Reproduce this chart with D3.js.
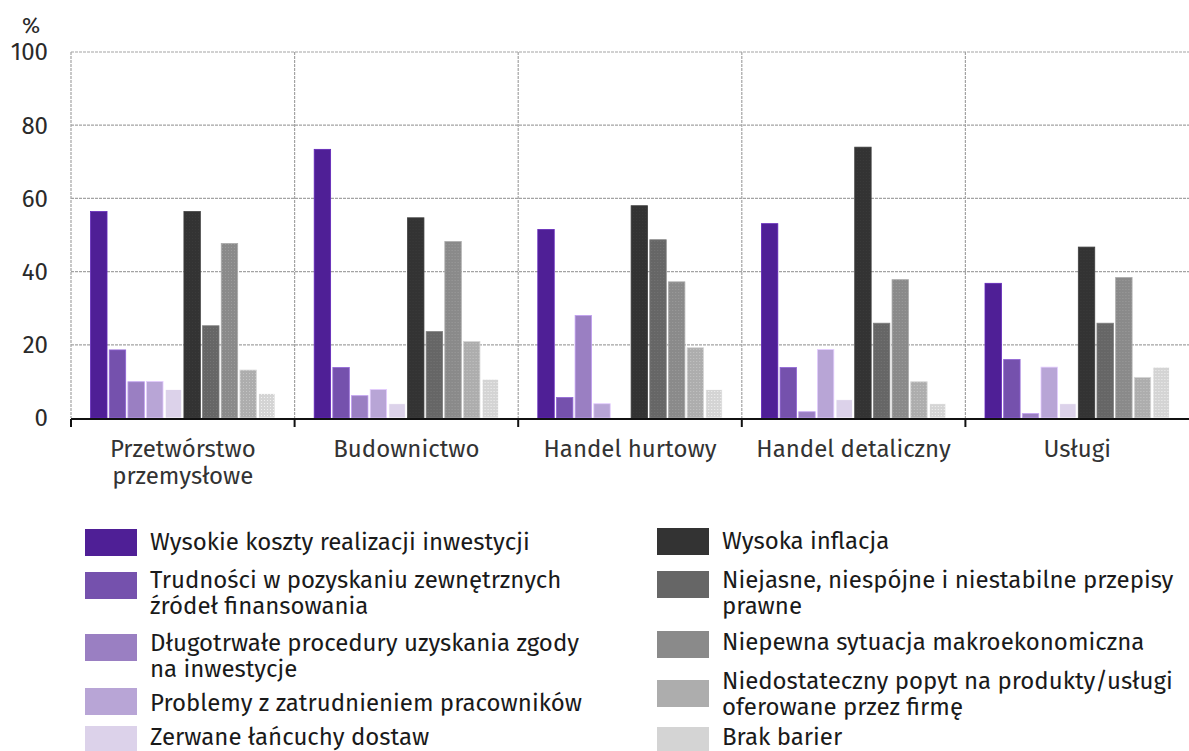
<!DOCTYPE html>
<html>
<head>
<meta charset="utf-8">
<script src="https://cdn.jsdelivr.net/npm/d3@7"></script>
<style>
  body { margin: 0; background: #fff; }
  text { font-family: "Fira Sans", "Open Sans", sans-serif; fill: #1a1a1a; }
</style>
</head>
<body>
<svg id="chart"></svg>
<script>
const categories = ["Przetwórstwo\nprzemysłowe", "Budownictwo", "Handel hurtowy", "Handel detaliczny", "Usługi"];
const seriesNames = [
  "Wysokie koszty realizacji inwestycji",
  "Trudności w pozyskaniu zewnętrznych\nźródeł finansowania",
  "Długotrwałe procedury uzyskania zgody\nna inwestycje",
  "Problemy z zatrudnieniem pracowników",
  "Zerwane łańcuchy dostaw",
  "Wysoka inflacja",
  "Niejasne, niespójne i niestabilne przepisy\nprawne",
  "Niepewna sytuacja makroekonomiczna",
  "Niedostateczny popyt na produkty/usługi\noferowane przez firmę",
  "Brak barier"
];
// one array per series, values per category (%)
const kosztyInwestycji = [56.4, 73.4, 51.5, 53.1, 36.8];
const finansowanie     = [18.6, 13.8, 5.6, 13.8, 16.0];
const procedury        = [9.9, 6.1, 28.0, 1.7, 1.2];
const pracownicy       = [10.0, 7.8, 3.9, 18.7, 13.9];
const lancuchyDostaw   = [7.8, 3.9, 0, 5.0, 3.9];
const inflacja         = [56.4, 54.7, 58.0, 74.0, 46.7];
const przepisy         = [25.2, 23.6, 48.7, 25.9, 25.9];
const makro            = [47.7, 48.2, 37.2, 37.8, 38.4];
const popyt            = [13.1, 20.9, 19.2, 9.9, 11.1];
const brakBarier       = [6.7, 10.6, 7.8, 3.9, 13.9];
const seriesValues = [kosztyInwestycji, finansowanie, procedury, pracownicy, lancuchyDostaw,
                      inflacja, przepisy, makro, popyt, brakBarier];
const yTicks = [0, 20, 40, 60, 80, 100];
const colors = ["#4f1f96", "#7551ad", "#9a7fc2", "#b8a5d6", "#dcd2ea",
                "#333333", "#666666", "#8a8a8a", "#adadad", "#d4d4d4"];

const width = 1189, height = 751;
const plotLeft = 71, plotRight = 1189, plotTop = 52, plotBottom = 418;

const svg = d3.select("#chart").attr("width", width).attr("height", height);

// textures for the gray bars
const defs = svg.append("defs");
colors.forEach((c, i) => {
  if (i < 5) return;
  const p = defs.append("pattern").attr("id", "pat" + i)
    .attr("width", 3).attr("height", 3).attr("patternUnits", "userSpaceOnUse");
  p.append("rect").attr("width", 3).attr("height", 3).attr("fill", c);
  p.append("rect").attr("x", 1).attr("y", 1).attr("width", 1).attr("height", 1)
    .attr("fill", d3.color(c).brighter(0.35));
});

const x0 = d3.scaleBand().domain(categories).range([plotLeft, plotRight]).padding(0);
const x1 = d3.scaleBand().domain(d3.range(seriesNames.length))
  .range([0, x0.bandwidth()]).paddingInner(0.12).paddingOuter(1.05);
const y = d3.scaleLinear().domain([0, 100]).range([plotBottom, plotTop]);

// grid
const grid = svg.append("g").attr("stroke", "#a3a3a3").attr("stroke-width", 1.2)
  .attr("stroke-dasharray", "3,1");
grid.selectAll("line.h").data(yTicks.filter(d => d > 0)).enter().append("line")
  .attr("x1", plotLeft).attr("x2", plotRight).attr("y1", d => y(d)).attr("y2", d => y(d));
grid.selectAll("line.v").data(categories).enter().append("line")
  .attr("x1", d => x0(d)).attr("x2", d => x0(d)).attr("y1", y(100)).attr("y2", y(0));

// y labels
svg.append("g").selectAll("text").data(yTicks).enter().append("text")
  .attr("x", 48).attr("y", d => y(d)).attr("dy", "0.35em")
  .attr("text-anchor", "end").style("font-size", "24px").style("fill", "#2a2a2a")
  .text(d => d);
svg.append("text").attr("x", 31).attr("y", 25).attr("dy", "0.35em")
  .attr("text-anchor", "middle").style("font-size", "22px").style("fill", "#2a2a2a").text("%");

// bars
const groups = svg.append("g").selectAll("g").data(categories).enter().append("g")
  .attr("transform", d => `translate(${x0(d)},0)`);
groups.selectAll("rect")
  .data((c, ci) => seriesValues.map((vals, si) => ({ si, v: vals[ci] })))
  .enter().append("rect")
  .attr("x", d => x1(d.si))
  .attr("width", x1.bandwidth())
  .attr("y", d => y(d.v))
  .attr("height", d => y(0) - y(d.v))
  .attr("fill", d => d.si < 5 ? colors[d.si] : `url(#pat${d.si})`)
  .attr("stroke", d => d3.color(colors[d.si]).brighter(0.6))
  .attr("stroke-width", 0.8);

// x axis
const axis = svg.append("g").attr("transform", `translate(0,${y(0) + 1})`);
axis.call(d3.axisBottom(x0).tickSizeOuter(0).tickSizeInner(0).tickFormat(""));
axis.select(".domain").attr("stroke", "#111").attr("stroke-width", 2)
  .attr("d", `M${plotLeft},0H${plotRight}`);
axis.selectAll(".tick").remove();
axis.selectAll("line.sep").data(categories).enter().append("line")
  .attr("x1", d => x0(d)).attr("x2", d => x0(d)).attr("y1", 0).attr("y2", 8)
  .attr("stroke", "#111").attr("stroke-width", 2);

const catText = svg.append("g").selectAll("text").data(categories).enter().append("text")
  .attr("x", d => x0(d) + x0.bandwidth() / 2).attr("y", 457)
  .attr("text-anchor", "middle").style("font-size", "24px").style("fill", "#333");
catText.each(function (d) {
  d.split("\n").forEach((line, i) => {
    d3.select(this).append("tspan").attr("x", x0(d) + x0.bandwidth() / 2)
      .attr("dy", i === 0 ? 0 : 27).text(line);
  });
});

// legend: left column then right column (swatch tops, first text baselines)
const swatchTops = [[529, 572, 634, 688, 726], [528, 571, 631, 680, 727]];
const textBase = [[550, 588, 651, 711, 745], [549, 588, 650, 689, 745]];
const legend = svg.append("g").selectAll("g").data(seriesNames).enter().append("g")
  .attr("transform", (d, i) => `translate(${i < 5 ? 85 : 657},0)`);
legend.append("rect").attr("width", 52).attr("height", 27)
  .attr("y", (d, i) => swatchTops[i < 5 ? 0 : 1][i % 5])
  .attr("fill", (d, i) => colors[i]);
legend.append("text").style("font-size", "24px").each(function (d, k) {
  const b = textBase[k < 5 ? 0 : 1][k % 5];
  d.split("\n").forEach((line, i) => {
    d3.select(this).append("tspan").attr("x", 65).attr("y", b + i * 26).text(line);
  });
});
</script>
</body>
</html>
